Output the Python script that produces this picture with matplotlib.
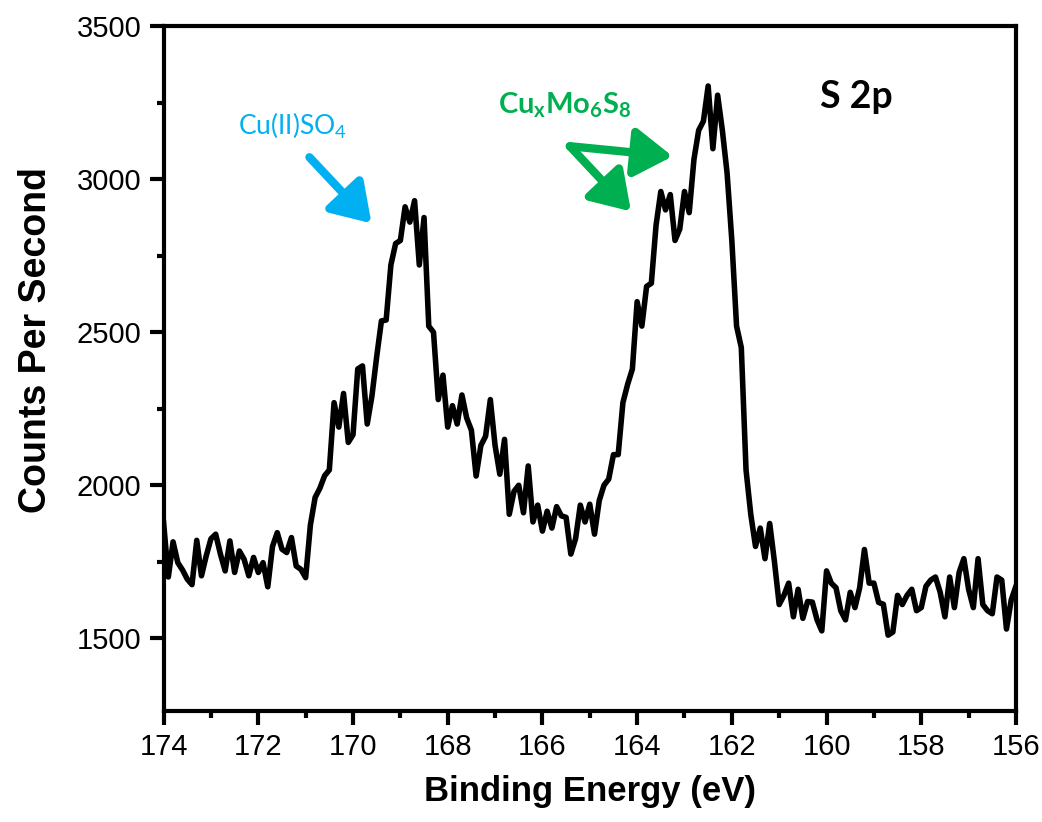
"""S 2p XPS spectrum of the Cu-treated Chevrel phase sample."""

import matplotlib
matplotlib.use("Agg")
import matplotlib.pyplot as plt
import numpy as np
from matplotlib.ticker import MultipleLocator

# binding energy grid, 174 -> 156 eV in 0.1 eV steps
BE_START, BE_END, N_PTS = 174.0, 156.0, 181

# counts per second, one value per grid point
CPS = [
    1878, 1700, 1815, 1747, 1723, 1693, 1675, 1820, 1704, 1769,   # 174.0
    1825, 1840, 1775, 1720, 1818, 1715, 1785, 1758, 1704, 1764,   # 173.0
    1715, 1747, 1668, 1800, 1845, 1791, 1780, 1829, 1736, 1725,   # 172.0
    1698, 1870, 1960, 1990, 2031, 2050, 2270, 2190, 2300, 2140,   # 171.0
    2165, 2380, 2390, 2200, 2292, 2420, 2537, 2540, 2720, 2790,   # 170.0
    2800, 2910, 2860, 2930, 2720, 2875, 2520, 2500, 2280, 2360,   # 169.0
    2190, 2260, 2200, 2295, 2220, 2180, 2030, 2130, 2160, 2280,   # 168.0
    2130, 2036, 2150, 1905, 1980, 2000, 1910, 2063, 1880, 1935,   # 167.0
    1850, 1915, 1860, 1930, 1900, 1895, 1775, 1825, 1935, 1880,   # 166.0
    1938, 1840, 1950, 2000, 2020, 2100, 2100, 2270, 2330, 2380,   # 165.0
    2600, 2520, 2650, 2660, 2850, 2960, 2900, 2950, 2800, 2837,   # 164.0
    2960, 2891, 3065, 3160, 3190, 3305, 3100, 3275, 3160, 3020,   # 163.0
    2800, 2520, 2450, 2050, 1905, 1800, 1860, 1760, 1875, 1750,   # 162.0
    1610, 1640, 1680, 1570, 1660, 1565, 1620, 1618, 1560, 1524,   # 161.0
    1720, 1680, 1665, 1590, 1560, 1650, 1600, 1665, 1790, 1680,   # 160.0
    1680, 1617, 1611, 1510, 1520, 1640, 1610, 1640, 1660, 1590,   # 159.0
    1600, 1670, 1690, 1700, 1650, 1570, 1700, 1600, 1715, 1760,   # 158.0
    1660, 1600, 1760, 1610, 1590, 1580, 1700, 1690, 1530, 1625,   # 157.0
    1670,                                                         # 156.0
]

# peak labels: text, anchor and arrow tails/heads in data units
SULFATE_LABEL = r"Cu(II)SO$_\mathregular{4}$"
SULFATE_XY = (171.27, 3176)
SULFATE_ARROW = ((170.92, 3072), (169.61, 2856))

CHEVREL_LABEL = r"Cu$_\mathregular{x}$Mo$_\mathregular{6}$S$_\mathregular{8}$"
CHEVREL_XY = (165.53, 3242)
CHEVREL_TAIL = (165.42, 3108)
CHEVREL_HEADS = [(163.25, 3075), (164.13, 2895)]

BLUE = "#00b0f0"
GREEN = "#00b050"

plt.rcParams["font.family"] = ["Liberation Sans", "DejaVu Sans"]

be = np.linspace(BE_START, BE_END, N_PTS)

fig = plt.figure(figsize=(10.42, 8.22), dpi=100)
ax = fig.add_axes([0.157, 0.135, 0.818, 0.833])

ax.plot(be, CPS, color="black", lw=4, solid_joinstyle="round")

ax.set_xlim(174, 156)
ax.set_ylim(1262, 3500)
ax.xaxis.set_major_locator(MultipleLocator(2))
ax.xaxis.set_minor_locator(MultipleLocator(1))
ax.yaxis.set_major_locator(MultipleLocator(500))
ax.yaxis.set_minor_locator(MultipleLocator(250))

for s in ax.spines.values():
    s.set_linewidth(3)
ax.tick_params(which="both", direction="out", width=3, top=False, right=False)
ax.tick_params(which="major", length=10, labelsize=21, pad=6)
ax.tick_params(which="minor", length=5)

ax.set_xlabel("Binding Energy (eV)", fontsize=25, fontweight="bold", labelpad=10)
ax.set_ylabel("Counts Per Second", fontsize=27, fontweight="bold")
ax.yaxis.set_label_coords(-0.128, 0.542)

arrow_kw = dict(arrowstyle="-|>,head_length=0.85,head_width=0.55",
                lw=6, mutation_scale=27, shrinkA=0, shrinkB=0)

# peak assignments
ax.text(*SULFATE_XY, SULFATE_LABEL, color=BLUE, fontsize=19, family="Lato",
        ha="center", va="center")
ax.annotate("", xy=SULFATE_ARROW[1], xytext=SULFATE_ARROW[0],
            arrowprops=dict(color=BLUE, **arrow_kw))

ax.text(*CHEVREL_XY, CHEVREL_LABEL, color=GREEN, fontsize=21, family="Lato",
        fontweight="bold", ha="center", va="center")
for head in CHEVREL_HEADS:
    ax.annotate("", xy=head, xytext=CHEVREL_TAIL,
                arrowprops=dict(color=GREEN, **arrow_kw))

ax.text(159.36, 3268, "S 2p", fontsize=27, family="Lato", fontweight="bold",
        ha="center", va="center")

fig.savefig("out.png", dpi=100)
